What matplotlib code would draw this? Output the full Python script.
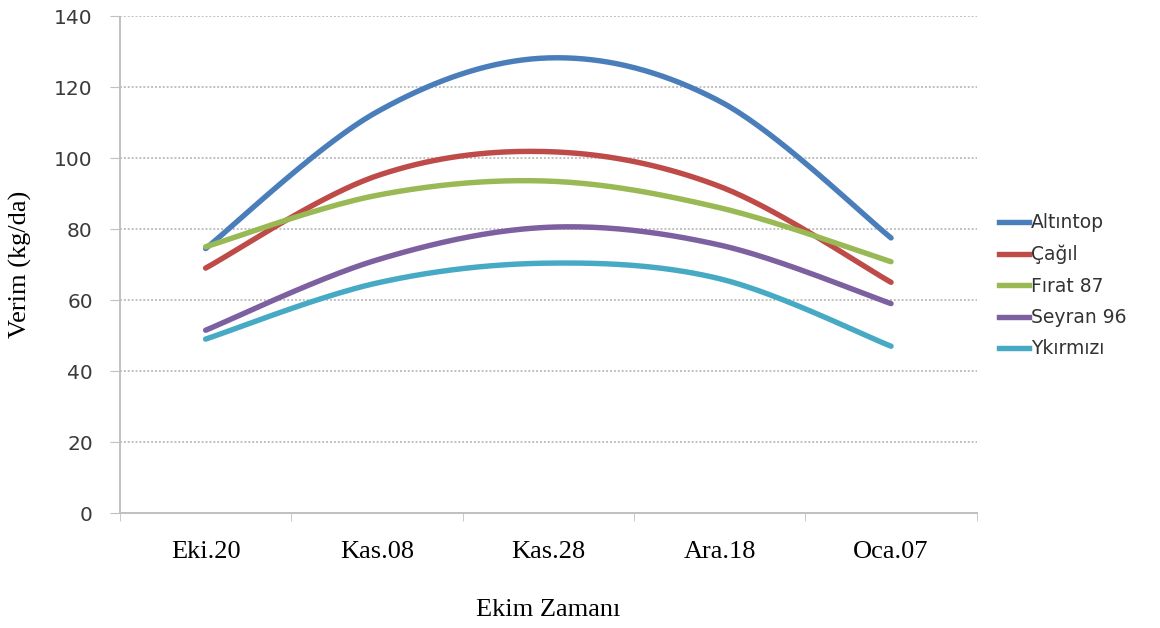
import numpy as np
import matplotlib
matplotlib.use("Agg")
import matplotlib.pyplot as plt
from matplotlib.lines import Line2D

categories = ["Eki.20", "Kas.08", "Kas.28", "Ara.18", "Oca.07"]
altintop = [74.5, 113, 128.2, 116, 77.5]
cagil = [69, 95, 101.8, 92, 65]
firat87 = [75, 89.5, 93.5, 86, 70.8]
seyran96 = [51.5, 71.3, 80.5, 75.5, 59]
ykirmizi = [49, 64.8, 70.4, 66, 47]

series = [("Altıntop", altintop, "#4A7EBB"),
          ("Çağıl", cagil, "#BE4B48"),
          ("Fırat 87", firat87, "#98B954"),
          ("Seyran 96", seyran96, "#7D60A0"),
          ("Ykırmızı", ykirmizi, "#46AAC5")]


def smooth(xs, ys, n=40):
    # Excel-like smoothing: cubic Bezier with Catmull-Rom control points
    xs = np.asarray(xs, float)
    ys = np.asarray(ys, float)
    P = np.column_stack([xs, ys])
    out = []
    m = len(P)
    for i in range(m - 1):
        p0 = P[i - 1] if i > 0 else P[i]
        p1 = P[i]
        p2 = P[i + 1]
        p3 = P[i + 2] if i + 2 < m else P[i + 1]
        b1 = p1 + (p2 - p0) / 6.0
        b2 = p2 - (p3 - p1) / 6.0
        t = np.linspace(0, 1, n)[:, None]
        seg = ((1 - t) ** 3) * p1 + 3 * ((1 - t) ** 2) * t * b1 + 3 * (1 - t) * t ** 2 * b2 + t ** 3 * p2
        if i > 0:
            seg = seg[1:]
        out.append(seg)
    out = np.vstack(out)
    return out[:, 0], out[:, 1]


fig = plt.figure(figsize=(11.6, 6.28), dpi=100)
ax = fig.add_axes([0.1034, 0.183, 0.7386, 0.7915])

x = np.arange(len(categories))
for name, vals, col in series:
    sx, sy = smooth(x, vals)
    ax.plot(sx, sy, color=col, lw=3.9, solid_capstyle="round", label=name)

ax.set_xlim(-0.5, len(categories) - 0.5)
ax.set_ylim(0, 140)
ax.set_yticks(np.arange(0, 141, 20))
ax.set_yticklabels([str(v) for v in range(0, 141, 20)], fontsize=14.5,
                   color="#3a3a3a", family="DejaVu Sans")
ax.set_xticks(x)
ax.set_xticklabels(categories, fontsize=19, family="Liberation Serif", color="black")
ax.set_xticks(np.arange(-0.5, len(categories), 1.0), minor=True)
ax.tick_params(axis="x", which="major", length=0, pad=20)
ax.tick_params(axis="x", which="minor", length=6, color="#c0c0c0", direction="out")
ax.tick_params(axis="y", length=7, color="#c0c0c0", direction="out", pad=12.5)

ax.grid(axis="y", color="#c0c0c0", linestyle=(0, (1, 1)), linewidth=1.4)
ax.set_axisbelow(True)
for s in ["top", "right"]:
    ax.spines[s].set_visible(False)
for s in ["left", "bottom"]:
    ax.spines[s].set_color("#c0c0c0")
    ax.spines[s].set_linestyle((0, (1, 1)))
    ax.spines[s].set_linewidth(1.4)

ax.set_ylabel("Verim (kg/da)", fontsize=19, family="Liberation Serif", labelpad=16)
ax.set_xlabel("Ekim Zamanı", fontsize=19, family="Liberation Serif", labelpad=26)

handles = [Line2D([0], [0], color=c, lw=3.9) for _, _, c in series]
leg = fig.legend(handles, [n for n, _, _ in series], loc="upper left",
                 bbox_to_anchor=(0.855, 0.672), frameon=False,
                 prop={"family": "DejaVu Sans", "size": 13.5},
                 handlelength=1.6, handletextpad=0.1, labelspacing=0.66,
                 borderaxespad=0)
for t in leg.get_texts():
    t.set_color("#333333")

fig.savefig("out.png", dpi=100)
